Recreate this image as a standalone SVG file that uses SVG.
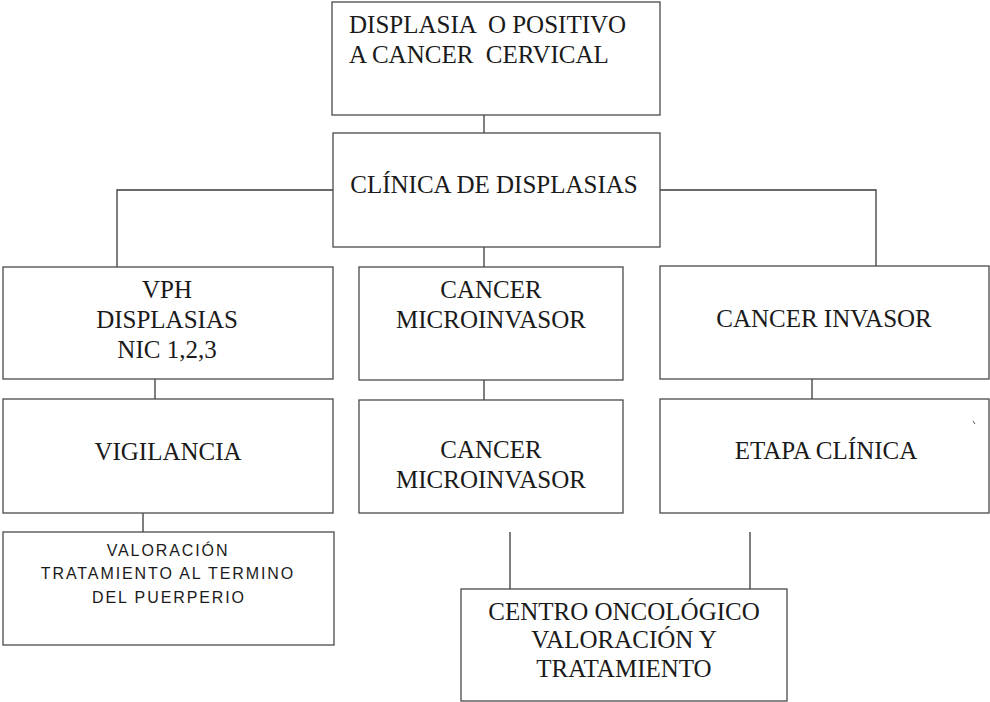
<svg xmlns="http://www.w3.org/2000/svg" width="990" height="702" viewBox="0 0 990 702">
  <style>
    .box { fill: #ffffff; stroke: #4a4a4a; stroke-width: 1.3; }
    .wire { fill: none; stroke: #3a3a3a; stroke-width: 1.3; }
    .t { font-family: "Liberation Serif", "Times New Roman", serif; font-size: 25px; fill: #1a1a1a; }
    .c { text-anchor: middle; }
    .s { font-family: "Liberation Sans", Arial, sans-serif; font-size: 16px; letter-spacing: 1.9px; fill: #1a1a1a; text-anchor: middle; }
  </style>
  <rect width="990" height="702" fill="#ffffff"/>

  <!-- connectors -->
  <g id="connectors">
    <line class="wire" x1="484" y1="115" x2="484" y2="133"/>
    <polyline class="wire" points="333,190 117,190 117,267"/>
    <polyline class="wire" points="660,190 876,190 876,266"/>
    <line class="wire" x1="484" y1="247" x2="484" y2="267"/>
    <line class="wire" x1="155" y1="379" x2="155" y2="399"/>
    <line class="wire" x1="484" y1="380" x2="484" y2="400"/>
    <line class="wire" x1="812" y1="379" x2="812" y2="399"/>
    <line class="wire" x1="143" y1="513" x2="143" y2="532"/>
    <line class="wire" x1="510" y1="532" x2="510" y2="589"/>
    <line class="wire" x1="750" y1="532" x2="750" y2="589"/>
  </g>

  <g id="n-displasia">
    <rect class="box" x="332" y="2" width="328" height="113"/>
    <text class="t" x="349" y="33" xml:space="preserve">DISPLASIA  O POSITIVO</text>
    <text class="t" x="349" y="63" xml:space="preserve">A CANCER  CERVICAL</text>
  </g>

  <g id="n-clinica">
    <rect class="box" x="333" y="133" width="327" height="114"/>
    <text class="t c" x="494" y="193">CLÍNICA DE DISPLASIAS</text>
  </g>

  <g id="n-vph">
    <rect class="box" x="3" y="267" width="330" height="112"/>
    <text class="t c" x="167" y="298">VPH</text>
    <text class="t c" x="167" y="328">DISPLASIAS</text>
    <text class="t c" x="167" y="358">NIC 1,2,3</text>
  </g>

  <g id="n-microinvasor">
    <rect class="box" x="359" y="267" width="264" height="113"/>
    <text class="t c" x="491" y="298">CANCER</text>
    <text class="t c" x="491" y="328">MICROINVASOR</text>
  </g>

  <g id="n-invasor">
    <rect class="box" x="660" y="266" width="329" height="113"/>
    <text class="t c" x="824" y="327">CANCER INVASOR</text>
  </g>

  <g id="n-vigilancia">
    <rect class="box" x="3" y="399" width="330" height="114"/>
    <text class="t c" x="168" y="460">VIGILANCIA</text>
  </g>

  <g id="n-microinvasor-2">
    <rect class="box" x="359" y="400" width="264" height="113"/>
    <text class="t c" x="491" y="458">CANCER</text>
    <text class="t c" x="491" y="488">MICROINVASOR</text>
  </g>

  <g id="n-etapa">
    <rect class="box" x="660" y="399" width="329" height="114"/>
    <text class="t c" x="826" y="459">ETAPA CLÍNICA</text>
    <line x1="973" y1="421" x2="975" y2="424" stroke="#555" stroke-width="1"/>
  </g>

  <g id="n-valoracion">
    <rect class="box" x="3" y="532" width="331" height="113"/>
    <text class="s" x="168" y="556">VALORACIÓN</text>
    <text class="s" x="168" y="579">TRATAMIENTO AL TERMINO</text>
    <text class="s" x="169" y="603">DEL PUERPERIO</text>
  </g>

  <g id="n-centro">
    <rect class="box" x="461" y="589" width="326" height="112"/>
    <text class="t c" x="624" y="620">CENTRO ONCOLÓGICO</text>
    <text class="t c" x="624" y="648">VALORACIÓN Y</text>
    <text class="t c" x="624" y="677">TRATAMIENTO</text>
  </g>
</svg>
